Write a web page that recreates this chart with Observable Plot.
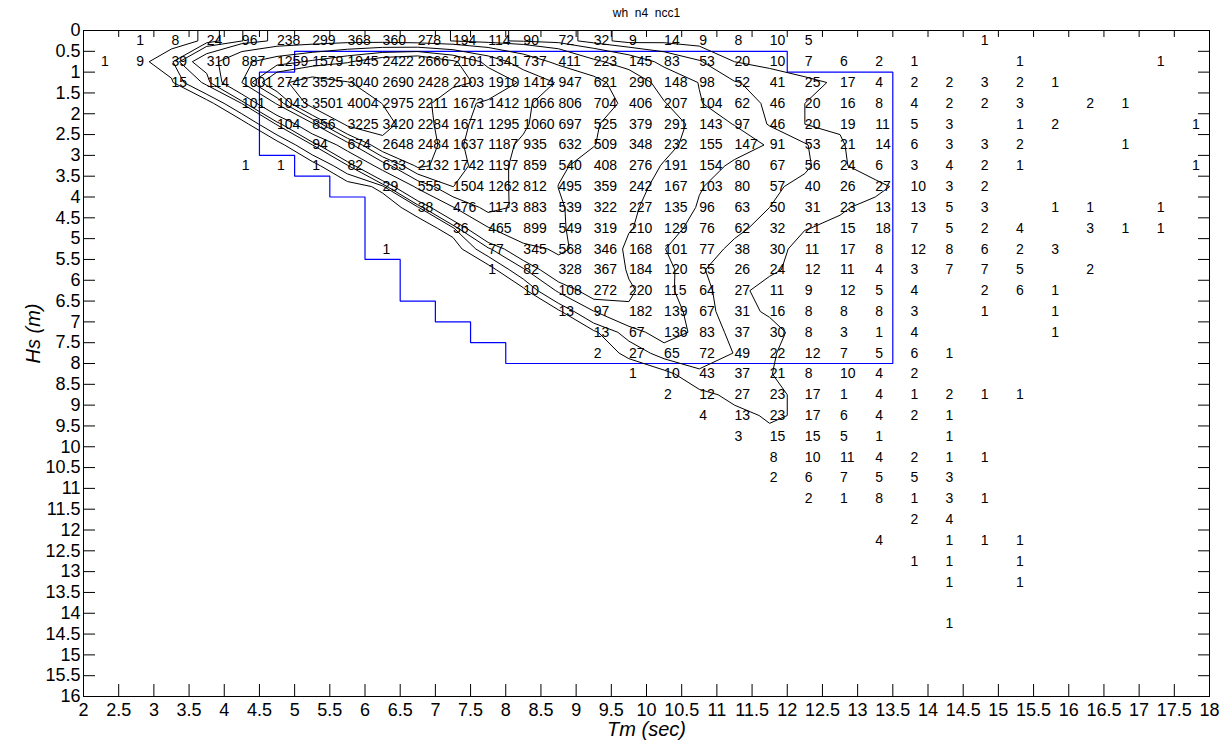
<!DOCTYPE html>
<html>
<head>
<meta charset="utf-8">
<script src="https://cdn.jsdelivr.net/npm/d3@7"></script>
<script src="https://cdn.jsdelivr.net/npm/@observablehq/plot@0.6"></script>
<style>
  html, body { margin: 0; padding: 0; background: #fff; }
  #chart svg { display: block; }
</style>
</head>
<body>
<div id="chart"></div>
<script>
// ---------- DATA ----------
// Tm bin centres (columns) and Hs bin centres (rows)
const tmCenters = [2.25, 2.75, 3.25, 3.75, 4.25, 4.75, 5.25, 5.75, 6.25, 6.75, 7.25, 7.75, 8.25, 8.75, 9.25, 9.75,
                   10.25, 10.75, 11.25, 11.75, 12.25, 12.75, 13.25, 13.75, 14.25, 14.75, 15.25, 15.75, 16.25, 16.75, 17.25, 17.75];
const hsCenters = [0.25, 0.75, 1.25, 1.75, 2.25, 2.75, 3.25, 3.75, 4.25, 4.75, 5.25, 5.75, 6.25, 6.75, 7.25, 7.75,
                   8.25, 8.75, 9.25, 9.75, 10.25, 10.75, 11.25, 11.75, 12.25, 12.75, 13.25, 13.75, 14.25, 14.75, 15.25, 15.75];

// place a run of read values into a 32-column row starting at column `start` (0 = blank)
function pad(start, vals) {
  const r = new Array(32).fill(0);
  vals.forEach((v, i) => { r[start + i] = v; });
  return r;
}

// Occurrence counts per Hs row (one named array per row)
const hs0_25  = pad(1,  [1, 8, 24, 96, 238, 299, 368, 360, 278, 194, 114, 90, 72, 32, 9, 14, 9, 8, 10, 5, 0, 0, 0, 0, 1]);
const hs0_75  = pad(0,  [1, 9, 39, 310, 887, 1259, 1579, 1945, 2422, 2666, 2101, 1341, 737, 411, 223, 145, 83, 53, 20, 10, 7, 6, 2, 1, 0, 0, 1, 0, 0, 0, 1]);
const hs1_25  = pad(2,  [15, 114, 1001, 2742, 3525, 3040, 2690, 2428, 2103, 1910, 1414, 947, 621, 290, 148, 98, 52, 41, 25, 17, 4, 2, 2, 3, 2, 1]);
const hs1_75  = pad(4,  [101, 1043, 3501, 4004, 2975, 2211, 1673, 1412, 1066, 806, 704, 406, 207, 104, 62, 46, 20, 16, 8, 4, 2, 2, 3, 0, 2, 1]);
const hs2_25  = pad(5,  [104, 856, 3225, 3420, 2284, 1671, 1295, 1060, 697, 525, 379, 291, 143, 97, 46, 20, 19, 11, 5, 3, 0, 1, 2, 0, 0, 0, 1]);
const hs2_75  = pad(6,  [94, 674, 2648, 2484, 1637, 1187, 935, 632, 509, 348, 232, 155, 147, 91, 53, 21, 14, 6, 3, 3, 2, 0, 0, 1]);
const hs3_25  = pad(4,  [1, 1, 1, 82, 633, 2132, 1742, 1197, 859, 540, 408, 276, 191, 154, 80, 67, 56, 24, 6, 3, 4, 2, 1, 0, 0, 0, 0, 1]);
const hs3_75  = pad(8,  [29, 555, 1504, 1262, 812, 495, 359, 242, 167, 103, 80, 57, 40, 26, 27, 10, 3, 2]);
const hs4_25  = pad(9,  [38, 476, 1173, 883, 539, 322, 227, 135, 96, 63, 50, 31, 23, 13, 13, 5, 3, 0, 1, 1, 0, 1]);
const hs4_75  = pad(10, [36, 465, 899, 549, 319, 210, 129, 76, 62, 32, 21, 15, 18, 7, 5, 2, 4, 0, 3, 1, 1]);
const hs5_25  = pad(8,  [1, 0, 0, 77, 345, 568, 346, 168, 101, 77, 38, 30, 11, 17, 8, 12, 8, 6, 2, 3]);
const hs5_75  = pad(11, [1, 82, 328, 367, 184, 120, 55, 26, 24, 12, 11, 4, 3, 7, 7, 5, 0, 2]);
const hs6_25  = pad(12, [10, 108, 272, 220, 115, 64, 27, 11, 9, 12, 5, 4, 0, 2, 6, 1]);
const hs6_75  = pad(13, [13, 97, 182, 139, 67, 31, 16, 8, 8, 8, 3, 0, 1, 0, 1]);
const hs7_25  = pad(14, [13, 67, 136, 83, 37, 30, 8, 3, 1, 4, 0, 0, 0, 1]);
const hs7_75  = pad(14, [2, 27, 65, 72, 49, 22, 12, 7, 5, 6, 1]);
const hs8_25  = pad(15, [1, 10, 43, 37, 21, 8, 10, 4, 2]);
const hs8_75  = pad(16, [2, 12, 27, 23, 17, 1, 4, 1, 2, 1, 1]);
const hs9_25  = pad(17, [4, 13, 23, 17, 6, 4, 2, 1]);
const hs9_75  = pad(18, [3, 15, 15, 5, 1, 0, 1]);
const hs10_25 = pad(19, [8, 10, 11, 4, 2, 1, 1]);
const hs10_75 = pad(19, [2, 6, 7, 5, 5, 3]);
const hs11_25 = pad(20, [2, 1, 8, 1, 3, 1]);
const hs11_75 = pad(23, [2, 4]);
const hs12_25 = pad(22, [4, 0, 1, 1, 1]);
const hs12_75 = pad(23, [1, 1, 0, 1]);
const hs13_25 = pad(24, [1, 0, 1]);
const hs13_75 = pad(0,  []);
const hs14_25 = pad(24, [1]);
const hs14_75 = pad(0,  []);
const hs15_25 = pad(0,  []);
const hs15_75 = pad(0,  []);

// Contour levels of the black isolines
const contourLevels = [20, 50, 100, 200, 500, 1000, 1500, 2000, 3000, 4000];

// Blue outline (Tm, Hs vertices)
const blueTm = [5, 12, 12, 13.5, 13.5, 8, 8, 7.5, 7.5, 7, 7, 6.5, 6.5, 6, 6, 5.5, 5.5, 5, 5, 4.5, 4.5, 5, 5];
const blueHs = [0.5, 0.5, 1, 1, 8, 8, 7.5, 7.5, 7, 7, 6.5, 6.5, 5.5, 5.5, 4, 4, 3.5, 3.5, 3, 3, 1, 1, 0.5];

// Axis tick values
const xTicks = [2, 2.5, 3, 3.5, 4, 4.5, 5, 5.5, 6, 6.5, 7, 7.5, 8, 8.5, 9, 9.5, 10, 10.5, 11, 11.5, 12, 12.5, 13, 13.5, 14, 14.5, 15, 15.5, 16, 16.5, 17, 17.5, 18];
const yTicks = [0, 0.5, 1, 1.5, 2, 2.5, 3, 3.5, 4, 4.5, 5, 5.5, 6, 6.5, 7, 7.5, 8, 8.5, 9, 9.5, 10, 10.5, 11, 11.5, 12, 12.5, 13, 13.5, 14, 14.5, 15, 15.5, 16];

const titleText = "wh\u00a0 n4\u00a0 ncc1";
const xLabel = "Tm (sec)";
const yLabel = "Hs (m)";

// ---------- BUILD TABLES ----------
const rows = [hs0_25, hs0_75, hs1_25, hs1_75, hs2_25, hs2_75, hs3_25, hs3_75, hs4_25, hs4_75, hs5_25, hs5_75,
              hs6_25, hs6_75, hs7_25, hs7_75, hs8_25, hs8_75, hs9_25, hs9_75, hs10_25, hs10_75, hs11_25, hs11_75,
              hs12_25, hs12_75, hs13_25, hs13_75, hs14_25, hs14_75, hs15_25, hs15_75];

const cells = [];
rows.forEach((r, j) => r.forEach((v, i) => {
  if (v > 0) cells.push({tm: tmCenters[i], hs: hsCenters[j], v, label: String(v)});
}));

// contour grid: one undefined row above the first Hs row so the isolines close along the first data row
const gridValues = new Array(32).fill(NaN).concat(...rows);

const blue = blueTm.map((t, i) => ({tm: t, hs: blueHs[i]}));

// ---------- PLOT ----------
const W = 1223, H = 748, mL = 83, mR = 14, mT = 30, mB = 52;
const plotW = W - mL - mR, plotH = H - mT - mB;
const fmt = (d) => String(d);

const chart = Plot.plot({
  width: W,
  height: H,
  marginLeft: mL,
  marginRight: mR,
  marginTop: mT,
  marginBottom: mB,
  style: {fontFamily: "'Liberation Sans', Arial, Helvetica, sans-serif", background: "#fff", color: "#000", overflow: "visible"},
  x: {domain: [2, 18]},
  y: {domain: [0, 16], reverse: true},
  marks: [
    Plot.line(blue, {x: "tm", y: "hs", stroke: "#0000ff", strokeWidth: 1.2, strokeLinejoin: "miter"}),
    Plot.contour(gridValues, {
      value: (d) => d, width: 32, height: 33,
      x1: 2, x2: 18, y1: -0.5, y2: 16,
      thresholds: contourLevels,
      stroke: "#000", fill: "none", strokeWidth: 1, clip: true
    }),
    Plot.text(cells, {x: "tm", y: "hs", text: "label", textAnchor: "start", fontSize: 14, fill: "#000"}),
    Plot.frame({stroke: "#000", strokeWidth: 1}),
    // inward ticks
    Plot.tickX(xTicks, {x: (d) => d, insetTop: plotH - 12, stroke: "#000"}),
    Plot.tickX(xTicks, {x: (d) => d, insetBottom: plotH - 7, stroke: "#000"}),
    Plot.tickY(yTicks, {y: (d) => d, insetRight: plotW - 12, stroke: "#000"}),
    Plot.tickY(yTicks, {y: (d) => d, insetLeft: plotW - 11, stroke: "#000"}),
    // tick labels
    Plot.axisX(xTicks, {anchor: "bottom", tickSize: 0, tickPadding: 7, fontSize: 18, tickFormat: fmt, label: null}),
    Plot.axisY(yTicks, {anchor: "left", tickSize: 0, tickPadding: 3, fontSize: 18, tickFormat: fmt, label: null}),
    // titles
    Plot.text([titleText], {text: (d) => d, frameAnchor: "top", lineAnchor: "middle", dy: -17, fontSize: 12}),
    Plot.text([xLabel], {text: (d) => d, frameAnchor: "bottom", lineAnchor: "middle", dy: 33, fontSize: 20, fontStyle: "italic"}),
    Plot.text([yLabel], {text: (d) => d, frameAnchor: "left", lineAnchor: "middle", dx: -50, rotate: -90, fontSize: 20, fontStyle: "italic"})
  ]
});

document.getElementById("chart").appendChild(chart);
</script>
</body>
</html>
